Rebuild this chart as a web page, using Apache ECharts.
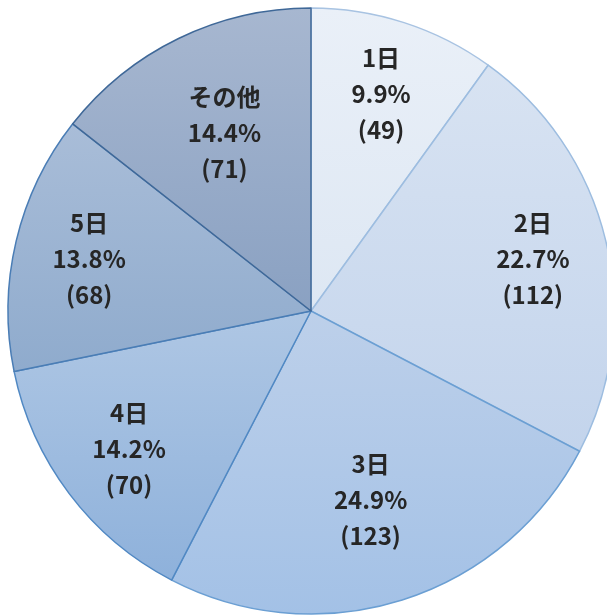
<!DOCTYPE html>
<html>
<head>
<meta charset="utf-8">
<script src="https://cdn.jsdelivr.net/npm/echarts@6/dist/echarts.min.js"></script>
<style>html,body{margin:0;padding:0;background:#fff}#c{width:607px;height:616px}</style>
</head>
<body>
<div id="c"></div>
<script>
const categories = ['1日', '2日', '3日', '4日', '5日', 'その他'];
const values = [49, 112, 123, 70, 68, 71];
const total = values.reduce((a, b) => a + b, 0);

const fills = [
  ['#eaf0f8', '#dde7f3'],
  ['#d8e3f2', '#c3d4ec'],
  ['#bdd0ea', '#a3c1e6'],
  ['#afc7e4', '#8eb1db'],
  ['#a9bdd8', '#8fabcd'],
  ['#a7b7d0', '#8aa1c2']
];
const borders = ['#a8c3e2', '#9dbde0', '#6b9fd3', '#5088c3', '#4a7db5', '#3f6898'];
const outerLabelSet = [0, 1, 3, 4];

const chart = echarts.init(document.getElementById('c'));
const grad = (c) => new echarts.graphic.LinearGradient(0, 0, 0, 1, [
  { offset: 0, color: c[0] }, { offset: 1, color: c[1] }
]);
const mainData = categories.map((n, i) => ({
  name: n, value: values[i],
  itemStyle: { color: grad(fills[i]), borderColor: borders[i], borderWidth: 1.5 }
}));
const labelStyle = {
  position: 'inside',
  fontFamily: '"Noto Sans CJK JP", "Noto Sans", sans-serif',
  fontWeight: 'bold',
  fontSize: 24,
  lineHeight: 36,
  color: '#262626',
  formatter: (p) => p.name + '\n' + (p.value / total * 100).toFixed(1) + '%\n(' + p.value + ')'
};
const overlay = (radius, showSet) => ({
  type: 'pie',
  center: [311, 311],
  radius: radius,
  startAngle: 90,
  silent: true,
  animation: false,
  labelLine: { show: false },
  itemStyle: { color: 'rgba(0,0,0,0)', borderWidth: 0 },
  emphasis: { disabled: true },
  data: categories.map((n, i) => ({
    name: n, value: values[i],
    label: Object.assign({}, labelStyle, { show: showSet.includes(i) })
  }))
});

chart.setOption({
  animation: false,
  series: [
    {
      type: 'pie',
      center: [311, 311],
      radius: [0, 303],
      startAngle: 90,
      label: { show: false },
      labelLine: { show: false },
      emphasis: { disabled: true },
      data: mainData
    },
    overlay([150, 300], outerLabelSet),
    overlay([90, 300], [2, 5])
  ]
});
</script>
</body>
</html>
